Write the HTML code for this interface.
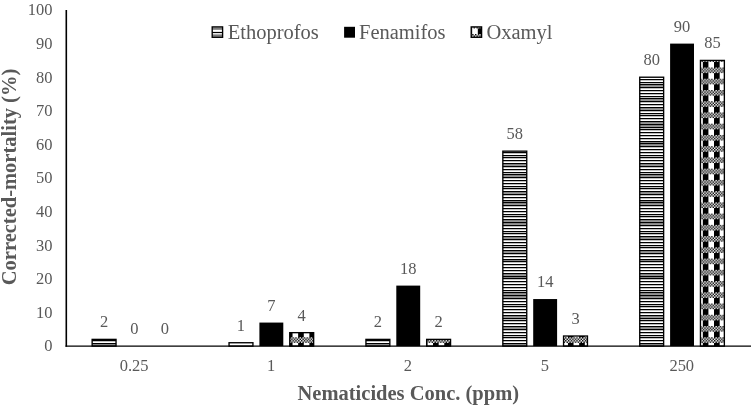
<!DOCTYPE html>
<html lang="en"><head><meta charset="utf-8"><title>Nematicides chart</title>
<style>html,body{margin:0;padding:0;background:#fff}body{width:751px;height:406px;overflow:hidden}svg{display:block}text{font-family:"Liberation Serif","Times New Roman",serif;fill:#595959}</style>
</head><body>
<svg width="751" height="406" viewBox="0 0 751 406">
<rect width="751" height="406" fill="#fff"/>
<defs>
<pattern id="pp" patternUnits="userSpaceOnUse" x="5.920" y="0.060" width="11.2400" height="11.2400"><g fill="#000"><rect x="0.0000" y="0.0000" width="1.4050" height="1.4050"/><rect x="2.8100" y="0.0000" width="1.4050" height="1.4050"/><rect x="5.6200" y="0.0000" width="1.4050" height="1.4050"/><rect x="8.4300" y="0.0000" width="1.4050" height="1.4050"/><rect x="1.4050" y="1.4050" width="1.4050" height="1.4050"/><rect x="4.2150" y="1.4050" width="1.4050" height="1.4050"/><rect x="7.0250" y="1.4050" width="1.4050" height="1.4050"/><rect x="9.8350" y="1.4050" width="1.4050" height="1.4050"/><rect x="0.0000" y="2.8100" width="1.4050" height="1.4050"/><rect x="2.8100" y="2.8100" width="1.4050" height="1.4050"/><rect x="5.6200" y="2.8100" width="1.4050" height="1.4050"/><rect x="8.4300" y="2.8100" width="1.4050" height="1.4050"/><rect x="1.4050" y="4.2150" width="1.4050" height="1.4050"/><rect x="4.2150" y="4.2150" width="1.4050" height="1.4050"/><rect x="7.0250" y="4.2150" width="1.4050" height="1.4050"/><rect x="9.8350" y="4.2150" width="1.4050" height="1.4050"/><rect x="0" y="5.6200" width="5.6200" height="5.6200"/></g></pattern>
<pattern id="pp2" patternUnits="userSpaceOnUse" x="5.720" y="0.320" width="11.2400" height="11.2400"><g fill="#000"><rect x="0.0000" y="0.0000" width="1.4050" height="1.4050"/><rect x="2.8100" y="0.0000" width="1.4050" height="1.4050"/><rect x="5.6200" y="0.0000" width="1.4050" height="1.4050"/><rect x="8.4300" y="0.0000" width="1.4050" height="1.4050"/><rect x="1.4050" y="1.4050" width="1.4050" height="1.4050"/><rect x="4.2150" y="1.4050" width="1.4050" height="1.4050"/><rect x="7.0250" y="1.4050" width="1.4050" height="1.4050"/><rect x="9.8350" y="1.4050" width="1.4050" height="1.4050"/><rect x="0.0000" y="2.8100" width="1.4050" height="1.4050"/><rect x="2.8100" y="2.8100" width="1.4050" height="1.4050"/><rect x="5.6200" y="2.8100" width="1.4050" height="1.4050"/><rect x="8.4300" y="2.8100" width="1.4050" height="1.4050"/><rect x="1.4050" y="4.2150" width="1.4050" height="1.4050"/><rect x="4.2150" y="4.2150" width="1.4050" height="1.4050"/><rect x="7.0250" y="4.2150" width="1.4050" height="1.4050"/><rect x="9.8350" y="4.2150" width="1.4050" height="1.4050"/><rect x="0" y="5.6200" width="5.6200" height="5.6200"/></g></pattern>
</defs>
<rect x="92.14" y="339.38" width="23.90" height="6.72" fill="#fff"/>
<path d="M92.14 344.30h23.90v1.70h-23.90z" fill="#969696"/><path d="M92.14 340h23.90v1.30h-23.90zM92.14 343h23.90v1.30h-23.90z" fill="#000"/>
<rect x="92.14" y="339.38" width="23.90" height="6.72" fill="none" stroke="#000" stroke-width="1.35"/>
<text transform="translate(104.09,327.38) scale(0.97,1)" font-size="17.0" text-anchor="middle">2</text>
<text transform="translate(134.45,334.10) scale(0.97,1)" font-size="17.0" text-anchor="middle">0</text>
<text transform="translate(164.81,334.10) scale(0.97,1)" font-size="17.0" text-anchor="middle">0</text>
<text transform="translate(134.15,370.90) scale(0.97,1)" font-size="17.0" text-anchor="middle">0.25</text>
<rect x="229.04" y="342.74" width="23.90" height="3.36" fill="#fff"/>
<path d="" fill="#969696"/><path d="" fill="#000"/>
<rect x="229.04" y="342.74" width="23.90" height="3.36" fill="none" stroke="#000" stroke-width="1.35"/>
<text transform="translate(240.99,330.74) scale(0.97,1)" font-size="17.0" text-anchor="middle">1</text>
<rect x="259.40" y="322.57" width="23.90" height="23.53" fill="#000"/>
<text transform="translate(271.35,310.57) scale(0.97,1)" font-size="17.0" text-anchor="middle">7</text>
<rect x="289.76" y="332.66" width="23.90" height="13.44" fill="#fff"/>
<rect x="289.76" y="332.66" width="23.90" height="13.44" fill="url(#pp)" stroke="#000" stroke-width="1.35"/>
<text transform="translate(301.71,320.66) scale(0.97,1)" font-size="17.0" text-anchor="middle">4</text>
<text transform="translate(271.05,370.90) scale(0.97,1)" font-size="17.0" text-anchor="middle">1</text>
<rect x="365.94" y="339.38" width="23.90" height="6.72" fill="#fff"/>
<path d="M365.94 344.30h23.90v1.70h-23.90z" fill="#969696"/><path d="M365.94 340h23.90v1.30h-23.90zM365.94 343h23.90v1.30h-23.90z" fill="#000"/>
<rect x="365.94" y="339.38" width="23.90" height="6.72" fill="none" stroke="#000" stroke-width="1.35"/>
<text transform="translate(377.89,327.38) scale(0.97,1)" font-size="17.0" text-anchor="middle">2</text>
<rect x="396.30" y="285.60" width="23.90" height="60.50" fill="#000"/>
<text transform="translate(408.25,273.60) scale(0.97,1)" font-size="17.0" text-anchor="middle">18</text>
<rect x="426.66" y="339.38" width="23.90" height="6.72" fill="#fff"/>
<rect x="426.66" y="339.38" width="23.90" height="6.72" fill="url(#pp)" stroke="#000" stroke-width="1.35"/>
<text transform="translate(438.61,327.38) scale(0.97,1)" font-size="17.0" text-anchor="middle">2</text>
<text transform="translate(407.95,370.90) scale(0.97,1)" font-size="17.0" text-anchor="middle">2</text>
<rect x="502.84" y="151.16" width="23.90" height="194.94" fill="#fff"/>
<path d="M502.84 164.30h23.90v1.70h-23.90zM502.84 175.30h23.90v1.70h-23.90zM502.84 192.30h23.90v1.70h-23.90zM502.84 201.30h23.90v0.70h-23.90zM502.84 203.30h23.90v1.70h-23.90zM502.84 220.30h23.90v1.70h-23.90zM502.84 223.30h23.90v1.70h-23.90zM502.84 237.30h23.90v1.70h-23.90zM502.84 251.30h23.90v1.70h-23.90zM502.84 260.30h23.90v0.70h-23.90zM502.84 274.30h23.90v1.70h-23.90zM502.84 277.30h23.90v0.70h-23.90zM502.84 293.30h23.90v1.70h-23.90zM502.84 296.30h23.90v1.70h-23.90zM502.84 316.30h23.90v1.70h-23.90zM502.84 327.30h23.90v1.70h-23.90zM502.84 344.30h23.90v1.70h-23.90z" fill="#969696"/><path d="M502.84 152h23.90v1.30h-23.90zM502.84 155h23.90v1.30h-23.90zM502.84 157h23.90v1.30h-23.90zM502.84 160h23.90v1.30h-23.90zM502.84 163h23.90v1.30h-23.90zM502.84 166h23.90v1.30h-23.90zM502.84 169h23.90v1.30h-23.90zM502.84 172h23.90v1.30h-23.90zM502.84 174h23.90v1.30h-23.90zM502.84 177h23.90v1.30h-23.90zM502.84 180h23.90v1.30h-23.90zM502.84 183h23.90v1.30h-23.90zM502.84 186h23.90v1.30h-23.90zM502.84 188h23.90v1.30h-23.90zM502.84 191h23.90v1.30h-23.90zM502.84 194h23.90v1.30h-23.90zM502.84 197h23.90v1.30h-23.90zM502.84 200h23.90v1.30h-23.90zM502.84 202h23.90v1.30h-23.90zM502.84 205h23.90v1.30h-23.90zM502.84 208h23.90v1.30h-23.90zM502.84 211h23.90v1.30h-23.90zM502.84 214h23.90v1.30h-23.90zM502.84 216h23.90v1.30h-23.90zM502.84 219h23.90v1.30h-23.90zM502.84 222h23.90v1.30h-23.90zM502.84 225h23.90v1.30h-23.90zM502.84 228h23.90v1.30h-23.90zM502.84 231h23.90v1.30h-23.90zM502.84 233h23.90v1.30h-23.90zM502.84 236h23.90v1.30h-23.90zM502.84 239h23.90v1.30h-23.90zM502.84 242h23.90v1.30h-23.90zM502.84 245h23.90v1.30h-23.90zM502.84 247h23.90v1.30h-23.90zM502.84 250h23.90v1.30h-23.90zM502.84 253h23.90v1.30h-23.90zM502.84 256h23.90v1.30h-23.90zM502.84 259h23.90v1.30h-23.90zM502.84 261h23.90v1.30h-23.90zM502.84 264h23.90v1.30h-23.90zM502.84 267h23.90v1.30h-23.90zM502.84 270h23.90v1.30h-23.90zM502.84 273h23.90v1.30h-23.90zM502.84 276h23.90v1.30h-23.90zM502.84 278h23.90v1.30h-23.90zM502.84 281h23.90v1.30h-23.90zM502.84 284h23.90v1.30h-23.90zM502.84 287h23.90v1.30h-23.90zM502.84 290h23.90v1.30h-23.90zM502.84 292h23.90v1.30h-23.90zM502.84 295h23.90v1.30h-23.90zM502.84 298h23.90v1.30h-23.90zM502.84 301h23.90v1.30h-23.90zM502.84 304h23.90v1.30h-23.90zM502.84 306h23.90v1.30h-23.90zM502.84 309h23.90v1.30h-23.90zM502.84 312h23.90v1.30h-23.90zM502.84 315h23.90v1.30h-23.90zM502.84 318h23.90v1.30h-23.90zM502.84 320h23.90v1.30h-23.90zM502.84 323h23.90v1.30h-23.90zM502.84 326h23.90v1.30h-23.90zM502.84 329h23.90v1.30h-23.90zM502.84 332h23.90v1.30h-23.90zM502.84 335h23.90v1.30h-23.90zM502.84 337h23.90v1.30h-23.90zM502.84 340h23.90v1.30h-23.90zM502.84 343h23.90v1.30h-23.90z" fill="#000"/>
<rect x="502.84" y="151.16" width="23.90" height="194.94" fill="none" stroke="#000" stroke-width="1.35"/>
<text transform="translate(514.79,139.16) scale(0.97,1)" font-size="17.0" text-anchor="middle">58</text>
<rect x="533.20" y="299.05" width="23.90" height="47.05" fill="#000"/>
<text transform="translate(545.15,287.05) scale(0.97,1)" font-size="17.0" text-anchor="middle">14</text>
<rect x="563.56" y="336.02" width="23.90" height="10.08" fill="#fff"/>
<rect x="563.56" y="336.02" width="23.90" height="10.08" fill="url(#pp)" stroke="#000" stroke-width="1.35"/>
<text transform="translate(575.51,324.02) scale(0.97,1)" font-size="17.0" text-anchor="middle">3</text>
<text transform="translate(544.85,370.90) scale(0.97,1)" font-size="17.0" text-anchor="middle">5</text>
<rect x="639.74" y="77.22" width="23.90" height="268.88" fill="#fff"/>
<path d="M639.74 85.30h23.90v1.70h-23.90zM639.74 99.30h23.90v1.70h-23.90zM639.74 108.30h23.90v1.70h-23.90zM639.74 122.30h23.90v1.70h-23.90zM639.74 125.30h23.90v1.70h-23.90zM639.74 142.30h23.90v0.70h-23.90zM639.74 144.30h23.90v1.70h-23.90zM639.74 164.30h23.90v1.70h-23.90zM639.74 175.30h23.90v1.70h-23.90zM639.74 192.30h23.90v1.70h-23.90zM639.74 201.30h23.90v0.70h-23.90zM639.74 203.30h23.90v1.70h-23.90zM639.74 220.30h23.90v1.70h-23.90zM639.74 223.30h23.90v1.70h-23.90zM639.74 237.30h23.90v1.70h-23.90zM639.74 251.30h23.90v1.70h-23.90zM639.74 260.30h23.90v0.70h-23.90zM639.74 274.30h23.90v1.70h-23.90zM639.74 277.30h23.90v0.70h-23.90zM639.74 293.30h23.90v1.70h-23.90zM639.74 296.30h23.90v1.70h-23.90zM639.74 316.30h23.90v1.70h-23.90zM639.74 327.30h23.90v1.70h-23.90zM639.74 344.30h23.90v1.70h-23.90z" fill="#969696"/><path d="M639.74 79h23.90v1.30h-23.90zM639.74 82h23.90v1.30h-23.90zM639.74 84h23.90v1.30h-23.90zM639.74 87h23.90v1.30h-23.90zM639.74 90h23.90v1.30h-23.90zM639.74 93h23.90v1.30h-23.90zM639.74 96h23.90v1.30h-23.90zM639.74 98h23.90v1.30h-23.90zM639.74 101h23.90v1.30h-23.90zM639.74 104h23.90v1.30h-23.90zM639.74 107h23.90v1.30h-23.90zM639.74 110h23.90v1.30h-23.90zM639.74 113h23.90v1.30h-23.90zM639.74 115h23.90v1.30h-23.90zM639.74 118h23.90v1.30h-23.90zM639.74 121h23.90v1.30h-23.90zM639.74 124h23.90v1.30h-23.90zM639.74 127h23.90v1.30h-23.90zM639.74 129h23.90v1.30h-23.90zM639.74 132h23.90v1.30h-23.90zM639.74 135h23.90v1.30h-23.90zM639.74 138h23.90v1.30h-23.90zM639.74 141h23.90v1.30h-23.90zM639.74 143h23.90v1.30h-23.90zM639.74 146h23.90v1.30h-23.90zM639.74 149h23.90v1.30h-23.90zM639.74 152h23.90v1.30h-23.90zM639.74 155h23.90v1.30h-23.90zM639.74 157h23.90v1.30h-23.90zM639.74 160h23.90v1.30h-23.90zM639.74 163h23.90v1.30h-23.90zM639.74 166h23.90v1.30h-23.90zM639.74 169h23.90v1.30h-23.90zM639.74 172h23.90v1.30h-23.90zM639.74 174h23.90v1.30h-23.90zM639.74 177h23.90v1.30h-23.90zM639.74 180h23.90v1.30h-23.90zM639.74 183h23.90v1.30h-23.90zM639.74 186h23.90v1.30h-23.90zM639.74 188h23.90v1.30h-23.90zM639.74 191h23.90v1.30h-23.90zM639.74 194h23.90v1.30h-23.90zM639.74 197h23.90v1.30h-23.90zM639.74 200h23.90v1.30h-23.90zM639.74 202h23.90v1.30h-23.90zM639.74 205h23.90v1.30h-23.90zM639.74 208h23.90v1.30h-23.90zM639.74 211h23.90v1.30h-23.90zM639.74 214h23.90v1.30h-23.90zM639.74 216h23.90v1.30h-23.90zM639.74 219h23.90v1.30h-23.90zM639.74 222h23.90v1.30h-23.90zM639.74 225h23.90v1.30h-23.90zM639.74 228h23.90v1.30h-23.90zM639.74 231h23.90v1.30h-23.90zM639.74 233h23.90v1.30h-23.90zM639.74 236h23.90v1.30h-23.90zM639.74 239h23.90v1.30h-23.90zM639.74 242h23.90v1.30h-23.90zM639.74 245h23.90v1.30h-23.90zM639.74 247h23.90v1.30h-23.90zM639.74 250h23.90v1.30h-23.90zM639.74 253h23.90v1.30h-23.90zM639.74 256h23.90v1.30h-23.90zM639.74 259h23.90v1.30h-23.90zM639.74 261h23.90v1.30h-23.90zM639.74 264h23.90v1.30h-23.90zM639.74 267h23.90v1.30h-23.90zM639.74 270h23.90v1.30h-23.90zM639.74 273h23.90v1.30h-23.90zM639.74 276h23.90v1.30h-23.90zM639.74 278h23.90v1.30h-23.90zM639.74 281h23.90v1.30h-23.90zM639.74 284h23.90v1.30h-23.90zM639.74 287h23.90v1.30h-23.90zM639.74 290h23.90v1.30h-23.90zM639.74 292h23.90v1.30h-23.90zM639.74 295h23.90v1.30h-23.90zM639.74 298h23.90v1.30h-23.90zM639.74 301h23.90v1.30h-23.90zM639.74 304h23.90v1.30h-23.90zM639.74 306h23.90v1.30h-23.90zM639.74 309h23.90v1.30h-23.90zM639.74 312h23.90v1.30h-23.90zM639.74 315h23.90v1.30h-23.90zM639.74 318h23.90v1.30h-23.90zM639.74 320h23.90v1.30h-23.90zM639.74 323h23.90v1.30h-23.90zM639.74 326h23.90v1.30h-23.90zM639.74 329h23.90v1.30h-23.90zM639.74 332h23.90v1.30h-23.90zM639.74 335h23.90v1.30h-23.90zM639.74 337h23.90v1.30h-23.90zM639.74 340h23.90v1.30h-23.90zM639.74 343h23.90v1.30h-23.90z" fill="#000"/>
<rect x="639.74" y="77.22" width="23.90" height="268.88" fill="none" stroke="#000" stroke-width="1.35"/>
<text transform="translate(651.69,65.22) scale(0.97,1)" font-size="17.0" text-anchor="middle">80</text>
<rect x="670.10" y="43.61" width="23.90" height="302.49" fill="#000"/>
<text transform="translate(682.05,31.61) scale(0.97,1)" font-size="17.0" text-anchor="middle">90</text>
<rect x="700.46" y="60.42" width="23.90" height="285.69" fill="#fff"/>
<rect x="700.46" y="60.42" width="23.90" height="285.69" fill="url(#pp)" stroke="#000" stroke-width="1.35"/>
<text transform="translate(712.41,48.42) scale(0.97,1)" font-size="17.0" text-anchor="middle">85</text>
<text transform="translate(681.75,370.90) scale(0.97,1)" font-size="17.0" text-anchor="middle">250</text>
<line x1="66.30" y1="10.00" x2="66.30" y2="346.80" stroke="#000" stroke-width="1.6"/>
<line x1="65.50" y1="346.10" x2="751.00" y2="346.10" stroke="#000" stroke-width="1.45"/>
<text transform="translate(52.5,351.40) scale(0.97,1)" font-size="17.0" text-anchor="end">0</text>
<text transform="translate(52.5,317.79) scale(0.97,1)" font-size="17.0" text-anchor="end">10</text>
<text transform="translate(52.5,284.18) scale(0.97,1)" font-size="17.0" text-anchor="end">20</text>
<text transform="translate(52.5,250.57) scale(0.97,1)" font-size="17.0" text-anchor="end">30</text>
<text transform="translate(52.5,216.96) scale(0.97,1)" font-size="17.0" text-anchor="end">40</text>
<text transform="translate(52.5,183.35) scale(0.97,1)" font-size="17.0" text-anchor="end">50</text>
<text transform="translate(52.5,149.74) scale(0.97,1)" font-size="17.0" text-anchor="end">60</text>
<text transform="translate(52.5,116.13) scale(0.97,1)" font-size="17.0" text-anchor="end">70</text>
<text transform="translate(52.5,82.52) scale(0.97,1)" font-size="17.0" text-anchor="end">80</text>
<text transform="translate(52.5,48.91) scale(0.97,1)" font-size="17.0" text-anchor="end">90</text>
<text transform="translate(52.5,15.30) scale(0.97,1)" font-size="17.0" text-anchor="end">100</text>
<text x="408.3" y="399.5" font-size="20.5" font-weight="bold" text-anchor="middle">Nematicides Conc. (ppm)</text>
<text transform="translate(16,177.0) rotate(-90)" font-size="20.5" font-weight="bold" text-anchor="middle">Corrected-mortality (%)</text>
<rect x="212.2" y="26.9" width="10.4" height="10.4" fill="#fff"/>
<rect x="212.2" y="27.4" width="10.4" height="2.4" fill="#7a7a7a"/>
<rect x="212.2" y="31.9" width="10.4" height="1.2" fill="#000"/>
<rect x="212.2" y="34.4" width="10.4" height="2.4" fill="#7a7a7a"/>
<rect x="212.2" y="26.9" width="10.4" height="10.4" fill="none" stroke="#000" stroke-width="1.35"/>
<text x="227.7" y="38.8" font-size="20.5">Ethoprofos</text>
<rect x="344.1" y="26.8" width="10.9" height="10.9" fill="#000"/>
<text x="359" y="38.8" font-size="20.5">Fenamifos</text>
<rect x="471.2" y="26.9" width="10.4" height="10.4" fill="#fff"/>
<rect x="471.2" y="26.9" width="10.4" height="10.4" fill="url(#pp2)" stroke="#000" stroke-width="1.35"/>
<text x="486.4" y="38.8" font-size="20.5">Oxamyl</text>
</svg></body></html>
